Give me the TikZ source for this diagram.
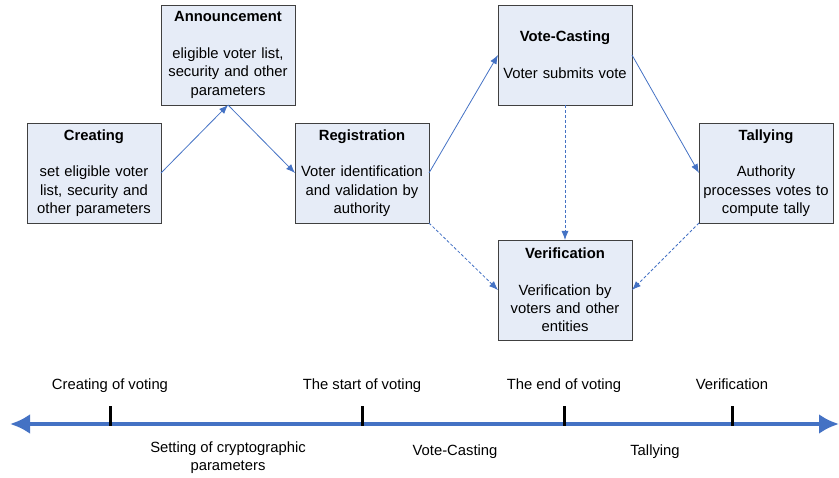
\documentclass[tikz,border=0pt]{standalone}
\usepackage{fontspec}
\setmainfont{Liberation Sans}
\usepackage{tikz}
\usetikzlibrary{arrows.meta, positioning}
\definecolor{boxfill}{HTML}{E6ECF7}
\definecolor{boxline}{HTML}{404040}
\definecolor{flowblue}{HTML}{4472C4}
\tikzset{
	phase/.style={rectangle, minimum width=134pt, minimum height=100pt, inner sep=0pt, outer sep=0pt, text width=130pt, align=center, draw=boxline, line width=0.8pt, fill=boxfill, font=\fontsize{14.8}{18.3}\selectfont},
	flow/.style={draw=flowblue, line width=0.8pt, -{Latex[length=9pt, width=7pt]}},
	checkflow/.style={flow, dash pattern=on 3pt off 2pt},
	timeline/.style={draw=flowblue, line width=4pt, {Latex[length=20pt, width=20pt]}-{Latex[length=20pt, width=20pt]}},
	tick/.style={draw=black, line width=3pt},
	period/.style={font=\fontsize{14.8}{18.3}\selectfont, align=center, inner sep=0pt}
}

\begin{document}
\begin{tikzpicture}[x=1pt, y=-1pt]
		\useasboundingbox (0,0) rectangle (839,478);
		% Phases of the election
		\node (creating) [phase] at (94,173) {\textbf{Creating}\\[18.3pt]set eligible voter\\list, security and\\other parameters};
		\node (announce) [phase, above right=18pt and 0pt of creating] {\textbf{Announcement}\\[18.3pt]eligible voter list,\\security and other\\parameters};
		\node (register) [phase, below right=18pt and 0pt of announce] {\textbf{Registration}\\[18.3pt]Voter identification\\and validation by\\authority};
		\node (cast) [phase, above right=18pt and 69pt of register] {\textbf{Vote-Casting}\\[18.3pt]Voter submits vote};
		\node (tally) [phase, below right=18pt and 67pt of cast] {\textbf{Tallying}\\[18.3pt]Authority\\processes votes to\\compute tally};
		\node (verify) [phase, below=135pt of cast] {\textbf{Verification}\\[18.3pt]Verification by\\voters and other\\entities};
		
		% Flow between phases
		\draw [flow] (creating.east) -- (announce.south);
		\draw [flow] (announce.south) -- (register.west);
		\draw [flow] (register.east) -- (cast.west);
		\draw [flow] (cast.east) -- (tally.west);
		\draw [checkflow] (cast.south) -- (verify.north);
		\draw [checkflow] (register.south east) -- (verify.west);
		\draw [checkflow] (tally.south west) -- (verify.east);
		
		% Time line
		\coordinate (tl-start) at (10,424);
		\coordinate (tl-end) at (839,424);
		\draw [timeline] (tl-start) -- (tl-end);
		\foreach \x/\name/\txt in {110/create/Creating of voting, 362/start/The start of voting, 564/end/The end of voting, 732/check/Verification} {
			\coordinate (tick-\name) at (\x,424);
			\draw [tick] ([yshift=-2pt]tick-\name) -- ([yshift=18pt]tick-\name);
			\node (mark-\name) [period, anchor=base] at (\x,390) {\txt};
		}
		
		% Periods between the marks
		\node (setup) [period] at (228,458) {Setting of cryptographic\\parameters};
		\node (casting) [period] at (455,452) {Vote-Casting};
		\node (tallying) [period] at (655,452) {Tallying};
	\end{tikzpicture}
\end{document}
